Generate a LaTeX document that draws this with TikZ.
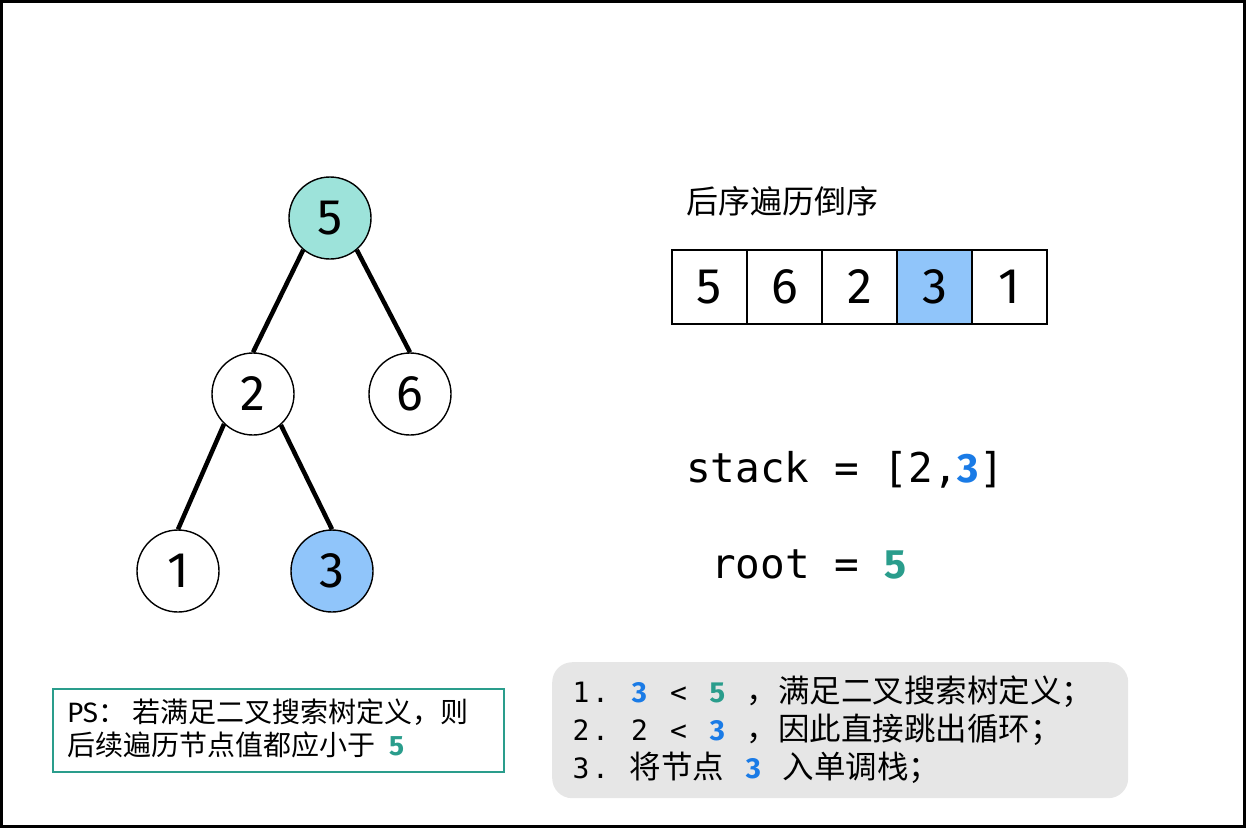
\documentclass[tikz,border=0pt]{standalone}
\usepackage{fontspec}
\setmainfont{Fira Sans}
\newfontfamily\cjk{Noto Sans CJK SC}
\newfontfamily\monof{DejaVu Sans Mono}
\definecolor{tealfill}{HTML}{9DE3DA}
\definecolor{bluefill}{HTML}{90C5FA}
\definecolor{blueT}{HTML}{1A7BE6}
\definecolor{tealT}{HTML}{2A9D8C}
\definecolor{boxgray}{HTML}{E6E6E6}
\newcommand{\mcell}[1]{\makebox[19.5pt][c]{#1}}
\newcommand{\bthree}{{\rmfamily\bfseries\fontsize{29}{29}\selectfont\color{blueT}3}}
\newcommand{\tfive}{{\rmfamily\bfseries\fontsize{29}{29}\selectfont\color{tealT}5}}
\newcommand{\stepcjk}{\cjk\fontsize{31.5}{31.5}\selectfont}
\tikzset{
  treenode/.style={circle, draw, line width=1.4pt, minimum size=82pt, inner sep=0pt, font=\fontsize{50}{50}\selectfont},
  edge/.style={line width=4.5pt},
  cell/.style={draw, line width=1.5pt, minimum width=75pt, minimum height=74pt, inner sep=0pt, font=\fontsize{50}{50}\selectfont},
  stepline/.style={anchor=west, inner sep=0pt, font=\monof\fontsize{28}{28}\selectfont},
}
\begin{document}
\begin{tikzpicture}[x=1pt,y=-1pt]
\useasboundingbox (0,0) rectangle (1246,828);
\draw[line width=2.5pt] (1.5,1.5) rectangle (1244.5,826.5);
% tree
\node[treenode, fill=tealfill] (n5) at (330,218) {5};
\node[treenode, fill=white] (n2) at (253,394) {2};
\node[treenode, fill=white] (n6) at (410,394) {6};
\node[treenode, fill=white] (n1) at (178,571) {1};
\node[treenode, fill=bluefill] (n3) at (332,571) {3};
\draw[edge] (n5.230) -- (n2.north);
\draw[edge] (n5.310) -- (n6.north);
\draw[edge] (n2.226) -- (n1.north);
\draw[edge] (n2.312) -- (n3.north);
% array
\node[anchor=west, inner sep=0pt, font=\cjk\fontsize{32}{32}\selectfont] (title) at (686,201) {后序遍历倒序};
\node[cell] (c1) at (709.5,287) {5};
\node[cell] (c2) at (784.5,287) {6};
\node[cell] (c3) at (859.5,287) {2};
\node[cell, fill=bluefill] (c4) at (934.5,287) {3};
\node[cell] (c5) at (1009.5,287) {1};
% stack / root
\node[anchor=base west, inner sep=0pt, font=\monof\fontsize{41}{41}\selectfont] (stack) at (686,482) {stack = [2,{\rmfamily\bfseries\color{blueT}3}]};
\node[anchor=base west, inner sep=0pt, font=\monof\fontsize{41}{41}\selectfont] (root) at (711,578) {root = {\rmfamily\bfseries\color{tealT}5}};
% PS box
\node[draw=tealT, line width=2pt, minimum width=451pt, minimum height=83pt, anchor=north west, inner sep=0pt] (ps) at (52,688) {};
\node[anchor=west, inner sep=0pt, font=\fontsize{28}{28}\selectfont] (ps1) at (67,712) {PS{\cjk ： 若满足二叉搜索树定义，则}};
\node[anchor=west, inner sep=0pt, font=\fontsize{28}{28}\selectfont] (ps2) at (67,745) {{\cjk 后续遍历节点值都应小于}\hspace{14pt}{\bfseries\color{tealT}5}};
% steps box
\node[fill=boxgray, rounded corners=20pt, minimum width=576pt, minimum height=136pt, anchor=north west, inner sep=0pt] (steps) at (552,662) {};
\node[stepline] (s1) at (571,692) {\mcell{1}\mcell{.}\mcell{}\mcell{\bthree}\mcell{}\mcell{<}\mcell{}\mcell{\tfive}\mcell{}{\stepcjk ，满足二叉搜索树定义；}};
\node[stepline] (s2) at (571,730) {\mcell{2}\mcell{.}\mcell{}\mcell{2}\mcell{}\mcell{<}\mcell{}\mcell{\bthree}\mcell{}{\stepcjk ，因此直接跳出循环；}};
\node[stepline] (s3) at (571,768) {\mcell{3}\mcell{.}\mcell{}{\stepcjk 将节点}\mcell{}\mcell{\bthree}\mcell{}{\stepcjk 入单调栈；}};
\end{tikzpicture}
\end{document}
